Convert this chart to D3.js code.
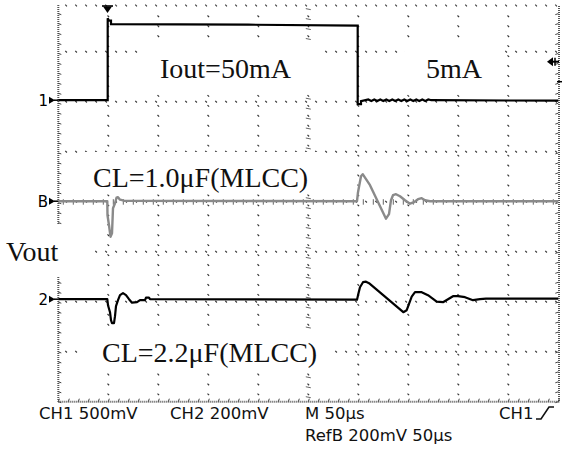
<!DOCTYPE html>
<html><head><meta charset="utf-8">
<script src="https://cdn.jsdelivr.net/npm/d3@7"></script>
<style>body{margin:0;background:#fff}svg{display:block}</style>
</head><body>
<svg id="c" width="566" height="456"></svg>
<script>
// Time in microseconds (50 us/div, 10 div), level in screen divisions from centre (+ up)
const ch1Time  = [0, 49.4, 49.4, 50.7, 52.7, 52.7, 190, 299.4, 299.4, 302.7, 302.7, 310, 313, 316, 319, 322, 325, 328, 331, 334, 337, 340, 343, 346, 349, 352, 355, 358, 361, 364, 367, 370, 373, 500];
const ch1Level = [2.03, 2.03, 3.67, 3.62, 3.62, 3.55, 3.54, 3.52, 1.95, 1.95, 2.01, 2.045, 2.015, 2.045, 2.015, 2.045, 2.015, 2.045, 2.015, 2.045, 2.015, 2.045, 2.015, 2.045, 2.015, 2.045, 2.015, 2.045, 2.015, 2.045, 2.015, 2.045, 2.03, 2.02];

const refBTime  = [0, 49, 49.2, 50.7, 52.2, 53.7, 54.7, 56.7, 58.2, 59.7, 61.7, 65.7, 298.7, 299.7, 302.7, 304.4, 311.7, 327.7, 330.7, 332.7, 334.7, 337.7, 341.7, 346.7, 351.7, 355.7, 359.7, 363.4, 366.7, 371.7, 500];
const refBLevel = [0.01, 0.01, -0.27, -0.47, -0.70, -0.63, -0.13, -0.03, 0.08, 0.09, 0.04, 0.02, 0.01, 0.19, 0.51, 0.55, 0.33, -0.34, -0.25, 0.03, 0.13, 0.15, 0.11, 0.03, -0.04, -0.01, 0.05, 0.07, 0.03, 0.01, 0.01];

const ch2Time  = [0, 49, 49.7, 51.7, 52.7, 53.7, 55.7, 56.7, 57.7, 59.7, 61.7, 64.7, 67.7, 70.7, 73.7, 78.7, 81.7, 86.7, 87.7, 90.7, 91.7, 298.7, 300.2, 301.7, 304.7, 307.7, 310.7, 345, 348.4, 353.4, 356.7, 363.4, 369.7, 378.4, 384.7, 389.7, 394.7, 399.7, 406.7, 414.7, 421.7, 427.7, 500];
const ch2Level = [-1.95, -1.95, -2.07, -2.21, -2.37, -2.43, -2.43, -2.29, -2.09, -1.97, -1.87, -1.83, -1.87, -1.95, -2.02, -2.01, -1.97, -1.97, -1.92, -1.92, -1.95, -1.96, -1.83, -1.71, -1.61, -1.60, -1.63, -2.21, -2.17, -1.90, -1.81, -1.81, -1.87, -2.00, -2.01, -1.95, -1.89, -1.89, -1.91, -1.97, -1.95, -1.94, -1.94];

const gridTimes  = [50, 100, 150, 200, 250, 300, 350, 400, 450];
const gridLevels = [-3, -2, -1, 0, 1, 2, 3];
const channelMarks = [{name: "1", level: 2.03}, {name: "B", level: 0.01}, {name: "2", level: -1.95}];
const triggerTime = 49.2;
const triggerLevel = 2.8;

const labels = [
  {text: "Iout=50mA", x: 160, y: 78, box: [140, 44, 178, 46]},
  {text: "5mA", x: 426, y: 78, box: [405, 44, 100, 44]},
  {text: "CL=1.0\u03BCF(MLCC)", x: 93, y: 187, box: [85, 152, 240, 41]},
  {text: "Vout", x: 6, y: 261, box: [0, 225, 95, 52]},
  {text: "CL=2.2\u03BCF(MLCC)", x: 102, y: 362, box: [85, 331, 245, 41]}
];
const readouts = [
  {text: "CH1 500mV", x: 39, y: 419},
  {text: "CH2 200mV", x: 170, y: 419},
  {text: "M 50\u03BCs", x: 305, y: 419},
  {text: "CH1", x: 499, y: 419},
  {text: "RefB 200mV 50\u03BCs", x: 305, y: 441}
];

const svg = d3.select("#c");
const x = d3.scaleLinear().domain([0, 500]).range([58.3, 558.3]);
const y = d3.scaleLinear().domain([-4, 4]).range([401.7, 1.7]);
const topY = 5.5;

svg.append("rect").attr("width", 566).attr("height", 456).attr("fill", "#fff");

const g = svg.append("g");
function dot(px, py) {
  g.append("line").attr("x1", px).attr("y1", py).attr("x2", px + 1.6).attr("y2", py + 1.6)
    .attr("stroke", "#333").attr("stroke-width", 1.2);
}
// dotted grid
gridTimes.forEach(t => { for (let py = topY + 10; py < y(-4) - 2; py += 9.95) dot(x(t) - 0.8, py); });
gridLevels.forEach(l => { for (let px = x(0) + 7; px < x(500) - 2; px += 10) dot(px, y(l) - 0.8); });
for (let px = x(0) + 7; px < x(500) - 2; px += 10) dot(px, topY - 0.8);

// centre line minor ticks
for (let t = 5; t < 500; t += 10) {
  g.append("line").attr("x1", x(t)).attr("x2", x(t)).attr("y1", y(0) - 2.5).attr("y2", y(0) + 3)
    .attr("stroke", "#666").attr("stroke-width", 1);
}
for (let py = y(-4) - 5; py >= topY; py -= 9.95) {
  g.append("line").attr("x1", x(250) - 2.5).attr("x2", x(250) + 2.5).attr("y1", py).attr("y2", py + 1)
    .attr("stroke", "#666").attr("stroke-width", 1);
}
// borders (left, right, bottom)
const border = [[x(0), topY - 0.5, x(0), y(-4)], [x(500) + 0.7, topY + 0.5, x(500) + 0.7, y(-4)], [x(0), y(-4), x(500) + 1, y(-4)]];
border.forEach(b => g.append("line").attr("x1", b[0]).attr("y1", b[1]).attr("x2", b[2]).attr("y2", b[3])
  .attr("stroke", "#555").attr("stroke-width", 2).attr("stroke-dasharray", "1 1"));
for (let py = y(-4); py >= topY; py -= 9.95) {
  g.append("line").attr("x1", x(0)).attr("x2", x(0) + 3).attr("y1", py).attr("y2", py + 1).attr("stroke", "#444").attr("stroke-width", 1);
  g.append("line").attr("x1", x(500)).attr("x2", x(500) - 3).attr("y1", py).attr("y2", py + 1).attr("stroke", "#444").attr("stroke-width", 1);
}
for (let t = 0; t <= 500; t += 10) {
  g.append("line").attr("x1", x(t)).attr("x2", x(t) + 1).attr("y1", y(-4)).attr("y2", y(-4) - 3).attr("stroke", "#444").attr("stroke-width", 1);
}

// white boxes behind labels
labels.forEach(l => svg.append("rect").attr("x", l.box[0]).attr("y", l.box[1]).attr("width", l.box[2]).attr("height", l.box[3]).attr("fill", "#fff"));

// traces
const line = d3.line().x(d => x(d[0])).y(d => y(d[1]));
svg.append("path").datum(d3.zip(refBTime, refBLevel)).attr("d", line)
  .attr("fill", "none").attr("stroke", "#8a8a8a").attr("stroke-width", 2.4).attr("stroke-linejoin", "round");
svg.append("path").datum(d3.zip(ch2Time, ch2Level)).attr("d", line)
  .attr("fill", "none").attr("stroke", "#000").attr("stroke-width", 2.2).attr("stroke-linejoin", "round");
svg.append("path").datum(d3.zip(ch1Time, ch1Level)).attr("d", line)
  .attr("fill", "none").attr("stroke", "#000").attr("stroke-width", 2.2).attr("stroke-linejoin", "miter");

// channel markers
channelMarks.forEach(m => {
  const py = y(m.level);
  svg.append("text").attr("x", 48).attr("y", py + 5.5).attr("text-anchor", "end")
    .attr("font-family", "DejaVu Sans").attr("font-size", 15).text(m.name);
  svg.append("path").attr("d", `M49,${py - 3.5}L55,${py}L49,${py + 3.5}Z`).attr("fill", "#000");
  svg.append("line").attr("x1", 54).attr("x2", x(0)).attr("y1", py).attr("y2", py).attr("stroke", "#000").attr("stroke-width", 1.5);
});
// trigger position marker (top)
const tx = x(triggerTime);
svg.append("line").attr("x1", tx - 5.5).attr("x2", tx + 5.5).attr("y1", 6).attr("y2", 6).attr("stroke", "#000").attr("stroke-width", 1.6);
svg.append("path").attr("d", `M${tx - 4.5},6.5L${tx + 4.5},6.5L${tx},13Z`).attr("fill", "#000");
// trigger level marker (right)
const ty = y(triggerLevel);
svg.append("path").attr("d", `M547,${ty}L553,${ty - 4.5}L553,${ty + 4.5}Z`).attr("fill", "#000");
svg.append("line").attr("x1", 552).attr("x2", 559).attr("y1", ty).attr("y2", ty).attr("stroke", "#000").attr("stroke-width", 2);
svg.append("line").attr("x1", 555).attr("x2", 555).attr("y1", ty - 4).attr("y2", ty + 4).attr("stroke", "#000").attr("stroke-width", 1.5);
svg.append("line").attr("x1", 557).attr("x2", 562).attr("y1", 81.7).attr("y2", 81.7).attr("stroke", "#000").attr("stroke-width", 1.5);

// annotation labels
labels.forEach(l => svg.append("text").attr("x", l.x).attr("y", l.y)
  .attr("font-family", "Liberation Serif, Times New Roman, serif").attr("font-size", 28).attr("fill", "#111").text(l.text));

// readouts
readouts.forEach(r => svg.append("text").attr("x", r.x).attr("y", r.y)
  .attr("font-family", "DejaVu Sans").attr("font-size", 16.5).attr("fill", "#111").text(r.text));
svg.append("path").attr("d", "M536,419H541L549,407H554").attr("fill", "none").attr("stroke", "#111").attr("stroke-width", 1.6);
</script>
</body></html>
